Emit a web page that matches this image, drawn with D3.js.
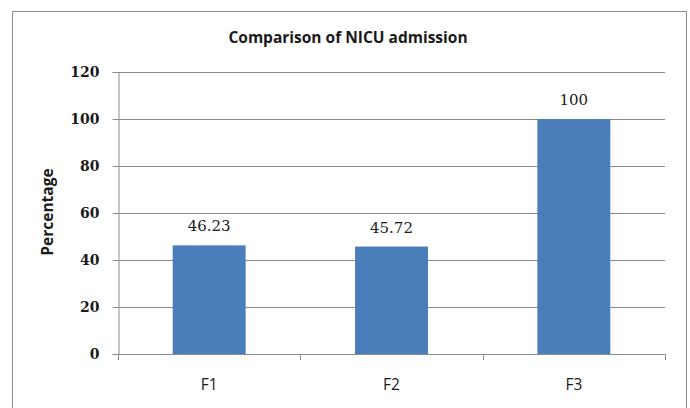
<!DOCTYPE html>
<html>
<head>
<meta charset="utf-8">
<script src="https://cdn.jsdelivr.net/npm/d3@7"></script>
<style>
  html, body { margin: 0; padding: 0; background: #fff; }
  svg { display: block; }
</style>
</head>
<body>
<svg id="chart" width="690" height="408"></svg>
<script>
// NICU admission percentages by group
const categories = ["F1", "F2", "F3"];
const values = [46.23, 45.72, 100];
const valueLabels = ["46.23", "45.72", "100"];
const yTicks = [0, 20, 40, 60, 80, 100, 120];

const svg = d3.select("#chart");
const W = 690, H = 408;

// chart frame (bottom edge runs off the page)
svg.append("path")
  .attr("d", `M12.5,${H + 2} V11.5 H686.5 V${H + 2}`)
  .attr("fill", "none")
  .attr("stroke", "#8c8c8c")
  .attr("stroke-width", 1);

const plot = { left: 118, right: 665, top: 72, bottom: 354 };

const x = d3.scaleBand()
  .domain(categories)
  .range([plot.left, plot.right])
  .paddingInner(0.6)
  .paddingOuter(0.3);

const y = d3.scaleLinear()
  .domain([0, 120])
  .range([plot.bottom, plot.top]);

// horizontal gridlines
svg.append("g")
  .selectAll("line")
  .data(yTicks.filter(d => d > 0))
  .join("line")
  .attr("x1", plot.left)
  .attr("x2", plot.right)
  .attr("y1", d => Math.round(y(d)) + 0.5)
  .attr("y2", d => Math.round(y(d)) + 0.5)
  .attr("stroke", "#8a8a8a")
  .attr("stroke-width", 1);

// bars
svg.append("g")
  .selectAll("rect")
  .data(values)
  .join("rect")
  .attr("x", (d, i) => x(categories[i]))
  .attr("width", x.bandwidth())
  .attr("y", d => y(d))
  .attr("height", d => plot.bottom - y(d))
  .attr("fill", "#4a7ebb");

// y axis
const yAxis = d3.axisLeft(y)
  .tickValues(yTicks)
  .tickSize(6)
  .tickPadding(13)
  .tickFormat(d3.format("d"));

const gy = svg.append("g")
  .attr("transform", `translate(${plot.left + 0.5},0)`)
  .call(yAxis);
gy.select(".domain").attr("stroke", "#8a8a8a");
gy.selectAll(".tick line").attr("stroke", "#8a8a8a");
gy.selectAll(".tick text")
  .attr("font-family", "'DejaVu Serif', serif")
  .attr("font-weight", "bold")
  .attr("font-size", 14)
  .attr("fill", "#1a1a1a");

// x axis with ticks at category boundaries
svg.append("line")
  .attr("x1", plot.left)
  .attr("x2", plot.right)
  .attr("y1", plot.bottom + 0.5)
  .attr("y2", plot.bottom + 0.5)
  .attr("stroke", "#8a8a8a");

const step = x.step();
const boundaries = d3.range(categories.length + 1).map(i => plot.left + i * step);
svg.append("g")
  .selectAll("line")
  .data(boundaries)
  .join("line")
  .attr("x1", d => Math.round(d) + 0.5)
  .attr("x2", d => Math.round(d) + 0.5)
  .attr("y1", plot.bottom)
  .attr("y2", plot.bottom + 6)
  .attr("stroke", "#8a8a8a");

svg.append("g")
  .selectAll("text")
  .data(categories)
  .join("text")
  .attr("x", d => x(d) + x.bandwidth() / 2)
  .attr("y", 390)
  .attr("text-anchor", "middle")
  .attr("font-family", "'Open Sans', sans-serif")
  .attr("font-size", 15.5)
  .attr("fill", "#1a1a1a")
  .text(d => d);

// value labels
svg.append("g")
  .selectAll("text")
  .data(values)
  .join("text")
  .attr("x", (d, i) => x(categories[i]) + x.bandwidth() / 2)
  .attr("y", d => y(d) - 14)
  .attr("text-anchor", "middle")
  .attr("font-family", "'DejaVu Serif', serif")
  .attr("font-size", 15)
  .attr("fill", "#1a1a1a")
  .text((d, i) => valueLabels[i]);

// title
svg.append("text")
  .attr("x", 348)
  .attr("y", 43)
  .attr("text-anchor", "middle")
  .attr("font-family", "'Open Sans', sans-serif")
  .attr("font-weight", "bold")
  .attr("font-size", 15.5)
  .attr("fill", "#1a1a1a")
  .text("Comparison of NICU admission");

// y axis title
svg.append("text")
  .attr("transform", `translate(53,212) rotate(-90)`)
  .attr("text-anchor", "middle")
  .attr("font-family", "'Open Sans', sans-serif")
  .attr("font-weight", "bold")
  .attr("font-size", 15.5)
  .attr("fill", "#1a1a1a")
  .text("Percentage");
</script>
</body>
</html>
